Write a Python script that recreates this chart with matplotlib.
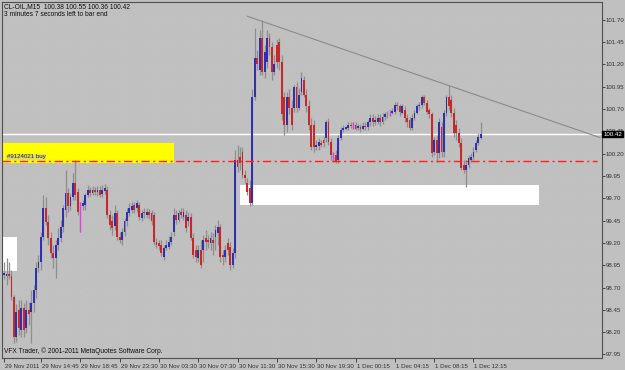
import matplotlib.pyplot as plt
import matplotlib.transforms as mtransforms
from matplotlib.patches import Rectangle
import numpy as np

# CL-OIL M15 bars, 29 Nov 2011 - 1 Dec 2011
opens = [
    98.84, 98.83, 98.85, 98.83, 98.59, 98.14, 98.45, 98.22, 98.47, 98.25,
    98.45, 98.42, 98.53, 98.67, 98.92, 98.99, 99.27, 99.59, 99.43, 99.26,
    99.09, 99.03, 99.18, 99.26, 99.38, 99.57, 99.76, 99.61, 99.72, 99.87,
    99.77, 99.63, 99.61, 99.63, 99.74, 99.79, 99.76, 99.79, 99.77, 99.79,
    99.75, 99.78, 99.79, 99.51, 99.44, 99.39, 99.54, 99.27, 99.23, 99.32,
    99.44, 99.54, 99.57, 99.63, 99.59, 99.63, 99.48, 99.55, 99.51, 99.55,
    99.54, 99.51, 99.21, 99.20, 99.18, 99.04, 99.14, 99.15, 99.21, 99.32,
    99.51, 99.46, 99.55, 99.49, 99.51, 99.44, 99.49, 99.26, 99.12, 99.03,
    99.12, 99.12, 99.26, 99.23, 99.20, 99.23, 99.27, 99.31, 99.38, 99.06,
    99.04, 99.20, 99.15, 98.95, 99.09, 100.13, 100.16, 100.22, 99.96, 99.87,
    99.82, 99.65, 100.84, 101.27, 101.14, 101.50, 101.12, 101.23, 101.50, 101.40,
    101.12, 101.42, 101.45, 101.23, 100.84, 100.52, 100.84, 100.71, 100.71, 100.95,
    100.71, 100.89, 101.03, 100.86, 100.73, 100.52, 100.52, 100.28, 100.29, 100.32,
    100.35, 100.38, 100.56, 100.33, 100.16, 100.19, 100.13, 100.38, 100.47, 100.48,
    100.49, 100.52, 100.52, 100.52, 100.49, 100.50, 100.48, 100.51, 100.50, 100.55,
    100.60, 100.55, 100.56, 100.60, 100.56, 100.61, 100.64, 100.66, 100.66, 100.67,
    100.75, 100.73, 100.66, 100.69, 100.60, 100.58, 100.49, 100.60, 100.66, 100.73,
    100.75, 100.84, 100.77, 100.69, 100.64, 100.22, 100.35, 100.21, 100.50, 100.22,
    100.66, 100.83, 100.80, 100.66, 100.52, 100.43, 100.32, 100.07, 100.02, 100.07,
    100.13, 100.16, 100.24, 100.32, 100.38,
]
highs = [
    98.99, 99.03, 98.99, 98.90, 98.62, 98.51, 98.56, 98.56, 98.53, 98.56,
    98.54, 98.67, 98.73, 98.99, 99.06, 99.32, 99.74, 99.71, 99.51, 99.32,
    99.18, 99.23, 99.37, 99.46, 99.63, 100.02, 99.82, 99.76, 99.98, 100.13,
    99.82, 99.66, 99.68, 99.76, 99.85, 99.83, 99.84, 99.83, 99.84, 99.84,
    99.85, 99.86, 99.84, 99.57, 99.51, 99.63, 99.57, 99.32, 99.37, 99.48,
    99.59, 99.65, 99.66, 99.66, 99.68, 99.66, 99.57, 99.59, 99.59, 99.58,
    99.57, 99.55, 99.26, 99.23, 99.23, 99.18, 99.23, 99.28, 99.32, 99.59,
    99.57, 99.57, 99.59, 99.59, 99.57, 99.55, 99.54, 99.31, 99.18, 99.18,
    99.23, 99.29, 99.35, 99.29, 99.32, 99.31, 99.40, 99.46, 99.41, 99.12,
    99.18, 99.26, 99.21, 99.14, 100.24, 100.30, 100.27, 100.27, 100.02, 99.93,
    99.91, 100.92, 101.61, 101.36, 101.59, 101.70, 101.42, 101.59, 101.55, 101.45,
    101.31, 101.48, 101.50, 101.31, 100.89, 100.89, 100.92, 100.80, 100.97, 101.00,
    100.94, 101.11, 101.07, 100.92, 100.80, 100.60, 100.58, 100.35, 100.38, 100.35,
    100.39, 100.58, 100.60, 100.38, 100.22, 100.24, 100.41, 100.50, 100.52, 100.51,
    100.56, 100.56, 100.56, 100.56, 100.53, 100.53, 100.55, 100.55, 100.58, 100.64,
    100.64, 100.62, 100.64, 100.64, 100.66, 100.67, 100.68, 100.69, 100.71, 100.78,
    100.78, 100.76, 100.76, 100.73, 100.64, 100.61, 100.64, 100.69, 100.76, 100.78,
    100.86, 100.86, 100.80, 100.71, 100.67, 100.39, 100.41, 100.60, 100.55, 100.69,
    100.86, 100.97, 100.86, 100.71, 100.58, 100.49, 100.38, 100.13, 100.13, 100.19,
    100.21, 100.27, 100.35, 100.43, 100.55,
]
lows = [
    98.79, 98.73, 98.79, 98.56, 98.08, 98.09, 98.17, 98.14, 98.15, 98.19,
    98.28, 98.08, 98.43, 98.58, 98.87, 98.90, 99.23, 99.40, 99.18, 99.03,
    98.92, 98.81, 99.12, 99.21, 99.32, 99.49, 99.55, 99.57, 99.68, 99.68,
    99.51, 99.32, 99.57, 99.57, 99.71, 99.73, 99.74, 99.74, 99.73, 99.71,
    99.72, 99.75, 99.48, 99.35, 99.29, 99.35, 99.23, 99.20, 99.18, 99.28,
    99.39, 99.50, 99.54, 99.53, 99.55, 99.46, 99.44, 99.48, 99.48, 99.47,
    99.40, 99.18, 99.14, 99.12, 99.05, 99.01, 99.12, 99.13, 99.18, 99.28,
    99.41, 99.43, 99.48, 99.46, 99.32, 99.39, 99.23, 99.03, 98.99, 98.99,
    98.92, 98.99, 99.12, 99.14, 99.12, 99.06, 99.12, 99.18, 98.99, 98.95,
    98.99, 99.06, 98.90, 98.92, 99.03, 100.00, 100.02, 99.93, 99.87, 99.74,
    99.61, 99.63, 100.80, 101.14, 101.08, 101.08, 101.05, 101.16, 101.31, 101.03,
    101.08, 101.16, 101.14, 100.58, 100.41, 100.44, 100.64, 100.47, 100.67, 100.67,
    100.69, 100.86, 100.83, 100.67, 100.47, 100.24, 100.22, 100.24, 100.24, 100.27,
    100.28, 100.33, 100.30, 100.13, 100.11, 100.10, 100.10, 100.35, 100.44, 100.46,
    100.47, 100.49, 100.48, 100.46, 100.46, 100.44, 100.46, 100.47, 100.47, 100.51,
    100.51, 100.52, 100.53, 100.51, 100.53, 100.58, 100.60, 100.62, 100.64, 100.65,
    100.69, 100.62, 100.64, 100.56, 100.50, 100.47, 100.47, 100.58, 100.64, 100.69,
    100.71, 100.74, 100.64, 100.60, 100.16, 100.19, 100.11, 100.15, 100.16, 100.16,
    100.62, 100.69, 100.61, 100.39, 100.35, 100.27, 100.02, 99.98, 99.83, 100.04,
    100.11, 100.13, 100.22, 100.30, 100.36,
]
closes = [
    98.86, 98.85, 98.83, 98.59, 98.14, 98.42, 98.25, 98.47, 98.22, 98.45,
    98.40, 98.53, 98.67, 98.92, 98.99, 99.27, 99.59, 99.43, 99.26, 99.09,
    99.03, 99.18, 99.26, 99.38, 99.59, 99.76, 99.61, 99.72, 99.87, 99.74,
    99.55, 99.63, 99.65, 99.74, 99.79, 99.76, 99.79, 99.77, 99.79, 99.74,
    99.79, 99.82, 99.51, 99.40, 99.37, 99.54, 99.27, 99.23, 99.32, 99.44,
    99.55, 99.59, 99.61, 99.57, 99.65, 99.49, 99.54, 99.53, 99.55, 99.51,
    99.44, 99.21, 99.18, 99.17, 99.09, 99.14, 99.18, 99.21, 99.27, 99.51,
    99.46, 99.54, 99.51, 99.55, 99.37, 99.49, 99.26, 99.06, 99.04, 99.12,
    98.95, 99.23, 99.21, 99.21, 99.26, 99.20, 99.35, 99.38, 99.04, 99.04,
    99.12, 99.12, 98.95, 99.09, 100.13, 100.05, 100.09, 99.96, 99.93, 99.77,
    99.65, 100.84, 101.27, 101.20, 101.50, 101.12, 101.34, 101.50, 101.40, 101.12,
    101.20, 101.23, 101.23, 100.64, 100.52, 100.84, 100.71, 100.52, 100.95, 100.71,
    100.86, 101.05, 100.86, 100.73, 100.52, 100.28, 100.28, 100.30, 100.33, 100.30,
    100.32, 100.55, 100.33, 100.19, 100.16, 100.11, 100.38, 100.47, 100.49, 100.50,
    100.52, 100.51, 100.52, 100.48, 100.51, 100.48, 100.51, 100.50, 100.55, 100.60,
    100.55, 100.58, 100.60, 100.55, 100.61, 100.64, 100.65, 100.66, 100.68, 100.75,
    100.73, 100.67, 100.73, 100.60, 100.55, 100.49, 100.60, 100.66, 100.73, 100.75,
    100.84, 100.77, 100.67, 100.64, 100.21, 100.35, 100.21, 100.55, 100.22, 100.66,
    100.83, 100.73, 100.66, 100.43, 100.43, 100.32, 100.04, 100.02, 100.07, 100.15,
    100.16, 100.22, 100.32, 100.39, 100.42,
]

# axis labels
price_ticks = [97.95, 98.20, 98.45, 98.70, 98.95, 99.20, 99.45, 99.70,
               99.95, 100.20, 100.45, 100.70, 100.95, 101.20, 101.45, 101.70]
time_ticks = [1, 16, 32, 48, 64, 80, 96, 112, 128, 144, 160, 176, 192]
time_labels = ['29 Nov 2011', '29 Nov 14:45', '29 Nov 18:45', '29 Nov 23:30',
               '30 Nov 03:30', '30 Nov 07:30', '30 Nov 11:30', '30 Nov 15:30',
               '30 Nov 19:30', '1 Dec 00:15', '1 Dec 04:15', '1 Dec 08:15',
               '1 Dec 12:15']

# objects drawn on the chart
bid = 100.42
order_price = 100.12
order_label = '#9124021 buy'
trend_x = [100, 243.5]
trend_y = [101.74, 100.38]
# (bar from, bar to, price low, price high, colour)
boxes = [
    (-2, 70.2, 100.09, 100.32, '#ffff00'),
    (-2, 6.1, 98.88, 99.27, '#ffffff'),
    (97, 218.8, 99.63, 99.85, '#ffffff'),
]

o = np.array(opens)
h = np.array(highs)
l = np.array(lows)
c = np.array(closes)
x = np.arange(1, len(c) + 1)

bg = '#c0c0c0'
plt.rcParams['font.family'] = ['Liberation Sans', 'DejaVu Sans']
fig = plt.figure(figsize=(6.25, 3.7), dpi=100, facecolor=bg)
ax = fig.add_axes([2 / 625, 12 / 370, 599.5 / 625, 356 / 370], facecolor=bg)

for x0, x1, y0, y1, col in boxes:
    ax.add_patch(Rectangle((x0, y0), x1 - x0, y1 - y0, facecolor=col,
                           edgecolor='none', zorder=1))

# sparse dotted grid like the terminal
for p in price_ticks:
    ax.axhline(p, color='#c9c9c9', lw=0.6, ls=(0, (1, 9)), zorder=0.5)
for t in time_ticks[1:]:
    ax.axvline(t, color='#c9c9c9', lw=0.6, ls=(0, (1, 9)), zorder=0.5)

ax.axhline(bid, color='white', lw=1.0, zorder=2)
ax.plot(trend_x, trend_y, color='#8a8a8a', lw=0.8, zorder=2)

# candles
ax.vlines(x, l, h, color='#8e8e8e', lw=0.9, zorder=3)
up = c > o
dn = c < o
eq = c == o
ax.bar(x[up], (c - o)[up], bottom=o[up], width=0.75, color='#2f2fb0',
       lw=0, zorder=4)
ax.bar(x[dn], (c - o)[dn], bottom=o[dn], width=0.75, color='#c82828',
       lw=0, zorder=4)
ax.vlines(x[eq], l[eq], h[eq], color='#e040e0', lw=0.9, zorder=4)

ax.axhline(order_price, color='#ff2020', lw=1.0, ls=(0, (6, 2.5, 1.5, 2.5)),
           zorder=5, xmax=0.993)
ax.text(2.0, order_price + 0.015, order_label, fontsize=4.4, color='#202020',
        va='bottom', ha='left', zorder=6,
        bbox=dict(boxstyle='square,pad=0.1', facecolor='#c8c8a0',
                  edgecolor='none', alpha=0.6))

ax.set_xlim(0.15, 244.1)
ax.set_ylim(97.91, 101.90)

ax.yaxis.tick_right()
ax.set_yticks(price_ticks)
ax.set_yticklabels([f'{p:.2f}' for p in price_ticks])
ax.tick_params(axis='y', length=2, width=0.6, pad=1, labelsize=4.4,
               colors='#303030')
ax.set_xticks(time_ticks)
ax.set_xticklabels(time_labels, ha='left')
ax.tick_params(axis='x', length=3, width=0.6, pad=1, labelsize=4.4,
               colors='#303030')
offset = mtransforms.ScaledTranslation(1 / 100, 0, fig.dpi_scale_trans)
for lab in ax.get_xticklabels():
    lab.set_transform(lab.get_transform() + offset)

for s in ax.spines.values():
    s.set_color('#505050')
    s.set_linewidth(0.8)

# current price marker on the price scale
tr = mtransforms.blended_transform_factory(ax.transAxes, ax.transData)
ax.text(1.003, bid, f'{bid:.2f}', transform=tr, fontsize=4.4, color='white',
        va='center', ha='left', zorder=7, clip_on=False,
        bbox=dict(boxstyle='square,pad=0.15', facecolor='black',
                  edgecolor='black'))

fig.text(4 / 625, 1 - 3 / 370,
         'CL-OIL,M15  100.38 100.55 100.36 100.42', fontsize=4.8,
         va='top', ha='left', color='#101010')
fig.text(4 / 625, 1 - 11 / 370, '3 minutes 7 seconds left to bar end',
         fontsize=4.8, va='top', ha='left', color='#101010')
fig.text(4 / 625, 1 - 351 / 370,
         'VFX Trader, \u00a9 2001-2011 MetaQuotes Software Corp.',
         fontsize=4.8, va='center', ha='left', color='#101010')

fig.savefig('out.png', dpi=100, facecolor=bg)
